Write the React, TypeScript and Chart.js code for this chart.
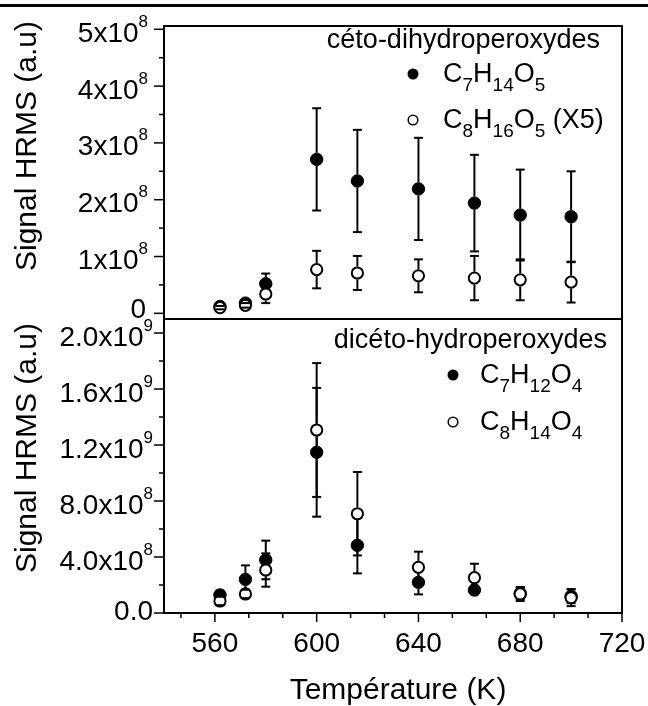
import React, { useEffect, useRef } from "react";
import { Chart, registerables } from "chart.js";
Chart.register(...registerables);

// ---------- data ----------
const temperatures = [562, 572, 580, 600, 616, 640, 662, 680, 700];

// top panel: céto-dihydroperoxydes
const c7h14o5 = [0.12e8, 0.18e8, 0.52e8, 2.71e8, 2.33e8, 2.19e8, 1.94e8, 1.73e8, 1.7e8];
const c7h14o5Err = [0.03e8, 0.04e8, 0.18e8, 0.9e8, 0.9e8, 0.9e8, 0.85e8, 0.8e8, 0.8e8];
const c8h16o5 = [0.1e8, 0.14e8, 0.34e8, 0.77e8, 0.71e8, 0.66e8, 0.62e8, 0.59e8, 0.55e8];
const c8h16o5Err = [0.03e8, 0.04e8, 0.16e8, 0.33e8, 0.3e8, 0.29e8, 0.39e8, 0.36e8, 0.36e8];

// bottom panel: dicéto-hydroperoxydes
const c7h12o4 = [1.29e8, 2.4e8, 3.79e8, 11.48e8, 4.83e8, 2.19e8, 1.64e8, 1.4e8, 1.2e8];
const c7h12o4Err = [0.3e8, 1.0e8, 1.38e8, 4.6e8, 2.0e8, 0.86e8, 0.3e8, 0.4e8, 0.5e8];
const c8h14o4 = [0.86e8, 1.36e8, 3.07e8, 13.07e8, 7.09e8, 3.26e8, 2.52e8, 1.36e8, 1.09e8];
const c8h14o4Err = [0.3e8, 0.3e8, 1.19e8, 4.78e8, 2.98e8, 1.12e8, 1.0e8, 0.5e8, 0.6e8];

// axes
const xMajorTicks = [560, 600, 640, 680, 720];
const xTickLabels = ["560", "600", "640", "680", "720"];
const topMajorTicks = [0, 1e8, 2e8, 3e8, 4e8, 5e8];
const topTickLabels = [["0", ""], ["1x10", "8"], ["2x10", "8"], ["3x10", "8"], ["4x10", "8"], ["5x10", "8"]];
const bottomMajorTicks = [0, 4e8, 8e8, 12e8, 16e8, 20e8];
const bottomTickLabels = [["0.0", ""], ["4.0x10", "8"], ["8.0x10", "8"], ["1.2x10", "9"], ["1.6x10", "9"], ["2.0x10", "9"]];

const xTitle = "Température (K)";
const yTitle = "Signal HRMS (a.u)";
const topLegendTitle = "céto-dihydroperoxydes";
const bottomLegendTitle = "dicéto-hydroperoxydes";

// ---------- drawing helpers ----------
const FONT = '"Liberation Sans", Arial, sans-serif';
const TICK = 28;
const SUP = 17;

type Seg = { t: string; size: number; dy: number };

function segW(ctx: CanvasRenderingContext2D, s: Seg) {
  ctx.font = `${s.size}px ${FONT}`;
  return ctx.measureText(s.t).width;
}

function drawRich(ctx: CanvasRenderingContext2D, segs: Seg[], x: number, y: number, align: string) {
  const total = segs.reduce((a, s) => a + segW(ctx, s), 0);
  let cx = align === "right" ? x - total : align === "center" ? x - total / 2 : x;
  for (const s of segs) {
    const w = segW(ctx, s);
    ctx.save();
    ctx.font = `${s.size}px ${FONT}`;
    ctx.textAlign = "left";
    ctx.textBaseline = "alphabetic";
    ctx.fillStyle = "#000";
    ctx.fillText(s.t, cx, y + s.dy);
    ctx.restore();
    cx += w;
  }
}

function line(ctx: CanvasRenderingContext2D, x1: number, y1: number, x2: number, y2: number, w: number) {
  ctx.beginPath();
  ctx.lineWidth = w;
  ctx.strokeStyle = "#000";
  ctx.moveTo(x1, y1);
  ctx.lineTo(x2, y2);
  ctx.stroke();
}

function formula(parts: string[], main = 27, sub = 19): Seg[] {
  // parts alternate: main, sub, main, sub ...
  return parts.map((t, i) => (i % 2 === 0 ? { t, size: main, dy: 0 } : { t, size: sub, dy: 9 }));
}

function legendMarker(ctx: CanvasRenderingContext2D, x: number, y: number, filled: boolean) {
  ctx.beginPath();
  if (filled) {
    ctx.arc(x, y, 5.5, 0, Math.PI * 2);
    ctx.fillStyle = "#000";
    ctx.fill();
  } else {
    ctx.arc(x, y, 4.8, 0, Math.PI * 2);
    ctx.fillStyle = "#fff";
    ctx.fill();
    ctx.lineWidth = 1.5;
    ctx.strokeStyle = "#000";
    ctx.stroke();
  }
}

function yTitleDraw(ctx: CanvasRenderingContext2D, cy: number) {
  ctx.save();
  ctx.translate(36, cy);
  ctx.rotate(-Math.PI / 2);
  ctx.font = `30px ${FONT}`;
  ctx.fillStyle = "#000";
  ctx.textAlign = "center";
  ctx.textBaseline = "alphabetic";
  ctx.fillText(yTitle, 0, 0);
  ctx.restore();
}

// error bars drawn right after each dataset (gap to symbol)
const errorBarPlugin = {
  id: "errbars",
  afterDatasetDraw(chart: any, args: any) {
    const ds = chart.data.datasets[args.index];
    const errs: number[] = ds.errors;
    if (!errs) return;
    const ctx = chart.ctx;
    const xs = chart.scales.x;
    const ys = chart.scales.y;
    const r = ds.gapRadius;
    ctx.save();
    ds.data.forEach((p: any, i: number) => {
      const px = xs.getPixelForValue(p.x);
      const py = ys.getPixelForValue(p.y);
      const top = ys.getPixelForValue(p.y + errs[i]);
      const bot = ys.getPixelForValue(p.y - errs[i]);
      if (py - top > r) line(ctx, px, py - r, px, top, 2);
      if (bot - py > r) line(ctx, px, py + r, px, bot, 2);
      line(ctx, px - 4.5, top, px + 4.5, top, 2);
      line(ctx, px - 4.5, bot, px + 4.5, bot, 2);
    });
    ctx.restore();
  },
};

function makeDatasets(filledVals: number[], filledErr: number[], openVals: number[], openErr: number[]) {
  return [
    {
      label: "open",
      data: temperatures.map((t, i) => ({ x: t, y: openVals[i] })),
      errors: openErr,
      gapRadius: 6.5,
      pointRadius: 5.6,
      pointBorderWidth: 2,
      pointBackgroundColor: "#fff",
      pointBorderColor: "#000",
      showLine: false,
      order: 0,
    },
    {
      label: "filled",
      data: temperatures.map((t, i) => ({ x: t, y: filledVals[i] })),
      errors: filledErr,
      gapRadius: 6.5,
      pointRadius: 6.2,
      pointBorderWidth: 1,
      pointBackgroundColor: "#000",
      pointBorderColor: "#000",
      showLine: false,
      order: 1,
    },
  ];
}

const topDecor = {
  id: "topDecor",
  afterDraw(chart: any) {
    const ctx = chart.ctx as CanvasRenderingContext2D;
    const a = chart.chartArea;
    const ys = chart.scales.y;
    ctx.save();
    // page border line at top
    line(ctx, 0, 5.5, 648, 5.5, 3);
    // frame
    line(ctx, a.left, a.top, a.right, a.top, 2);
    line(ctx, a.left, a.top - 1, a.left, a.bottom + 1, 2);
    line(ctx, a.right, a.top - 1, a.right, a.bottom + 1, 2);
    line(ctx, a.left, a.bottom, a.right, a.bottom, 2);
    // y ticks
    topMajorTicks.forEach((v, i) => {
      const py = ys.getPixelForValue(v);
      line(ctx, a.left - 10, py, a.left, py, 1.5);
      if (i < topMajorTicks.length - 1) {
        const pm = ys.getPixelForValue(v + 0.5e8);
        line(ctx, a.left - 5, pm, a.left, pm, 1.5);
      }
      const [m, s] = topTickLabels[i];
      if (s === "") {
        drawRich(ctx, [{ t: m, size: TICK, dy: 0 }], 146, py + 4.5, "right");
      } else {
        drawRich(ctx, [{ t: m, size: TICK, dy: 0 }, { t: s, size: SUP, dy: -15 }], 148, py + 12.5, "right");
      }
    });
    yTitleDraw(ctx, 146);
    // legend
    drawRich(ctx, [{ t: topLegendTitle, size: 27, dy: 0 }], 600, 48, "right");
    legendMarker(ctx, 413, 74, true);
    drawRich(ctx, formula(["C", "7", "H", "14", "O", "5"]), 443, 82, "left");
    legendMarker(ctx, 413, 120, false);
    drawRich(ctx, [...formula(["C", "8", "H", "16", "O", "5"]), { t: " (X5)", size: 27, dy: 0 }], 443, 128, "left");
    ctx.restore();
  },
};

const bottomDecor = {
  id: "bottomDecor",
  afterDraw(chart: any) {
    const ctx = chart.ctx as CanvasRenderingContext2D;
    const a = chart.chartArea;
    const ys = chart.scales.y;
    const xs = chart.scales.x;
    ctx.save();
    line(ctx, a.left, a.top, a.right, a.top, 2);
    line(ctx, a.left, a.top - 1, a.left, a.bottom + 1, 2);
    line(ctx, a.right, a.top - 1, a.right, a.bottom + 1, 2);
    line(ctx, a.left, a.bottom, a.right, a.bottom, 2);
    // y ticks
    bottomMajorTicks.forEach((v, i) => {
      const py = ys.getPixelForValue(v);
      line(ctx, a.left - 10, py, a.left, py, 1.5);
      if (i < bottomMajorTicks.length - 1) {
        const pm = ys.getPixelForValue(v + 2e8);
        line(ctx, a.left - 5, pm, a.left, pm, 1.5);
      }
      const [m, s] = bottomTickLabels[i];
      if (s === "") {
        drawRich(ctx, [{ t: m, size: TICK, dy: 0 }], 153, py + 7, "right");
      } else {
        drawRich(ctx, [{ t: m, size: TICK, dy: 0 }, { t: s, size: SUP, dy: -15 }], 153, py + 12.5, "right");
      }
    });
    // x ticks (major every 40, two minors between)
    for (let k = -1; k <= 12; k++) {
      const v = xMajorTicks[0] + (k * 40) / 3;
      const px = xs.getPixelForValue(v);
      const major = k % 3 === 0;
      line(ctx, px, a.bottom, px, a.bottom + (major ? 9 : 5), 1.5);
    }
    xMajorTicks.forEach((v, i) => {
      const px = xs.getPixelForValue(v);
      drawRich(ctx, [{ t: xTickLabels[i], size: TICK, dy: 0 }], px, 652, "center");
    });
    drawRich(ctx, [{ t: xTitle, size: 30, dy: 0 }], 398, 699, "center");
    yTitleDraw(ctx, 448);
    // legend
    drawRich(ctx, [{ t: bottomLegendTitle, size: 27, dy: 0 }], 607, 348, "right");
    legendMarker(ctx, 453, 375, true);
    drawRich(ctx, formula(["C", "7", "H", "12", "O", "4"]), 480, 383, "left");
    legendMarker(ctx, 453, 422, false);
    drawRich(ctx, formula(["C", "8", "H", "14", "O", "4"]), 480, 430, "left");
    ctx.restore();
  },
};

function baseOptions(padding: any, yMin: number, yMax: number) {
  return {
    animation: false as const,
    responsive: false,
    maintainAspectRatio: false,
    events: [],
    layout: { padding },
    plugins: { legend: { display: false }, tooltip: { enabled: false } },
    scales: {
      x: { type: "linear" as const, min: 540, max: 720, display: false },
      y: { type: "linear" as const, min: yMin, max: yMax, display: false },
    },
  };
}

export default function App() {
  const topRef = useRef<HTMLCanvasElement>(null);
  const botRef = useRef<HTMLCanvasElement>(null);

  useEffect(() => {
    document.body.style.margin = "0";
    const top = new Chart(topRef.current!, {
      type: "scatter",
      data: { datasets: makeDatasets(c7h14o5, c7h14o5Err, c8h16o5, c8h16o5Err) as any },
      options: baseOptions({ left: 164, top: 26, right: 26, bottom: 706 - 319 }, -0.1e8, 5.058e8) as any,
      plugins: [errorBarPlugin, topDecor],
    });
    const bot = new Chart(botRef.current!, {
      type: "scatter",
      data: { datasets: makeDatasets(c7h12o4, c7h12o4Err, c8h14o4, c8h14o4Err) as any },
      options: baseOptions({ left: 164, top: 319, right: 26, bottom: 706 - 613 }, 0, 2.1e9) as any,
      plugins: [errorBarPlugin, bottomDecor],
    });
    return () => {
      top.destroy();
      bot.destroy();
    };
  }, []);

  const cs: React.CSSProperties = { position: "absolute", left: 0, top: 0, width: 648, height: 706 };
  return (
    <div style={{ position: "absolute", left: 0, top: 0, width: 648, height: 706, background: "#fff" }}>
      <canvas ref={topRef} width={648} height={706} style={cs} />
      <canvas ref={botRef} width={648} height={706} style={cs} />
    </div>
  );
}
